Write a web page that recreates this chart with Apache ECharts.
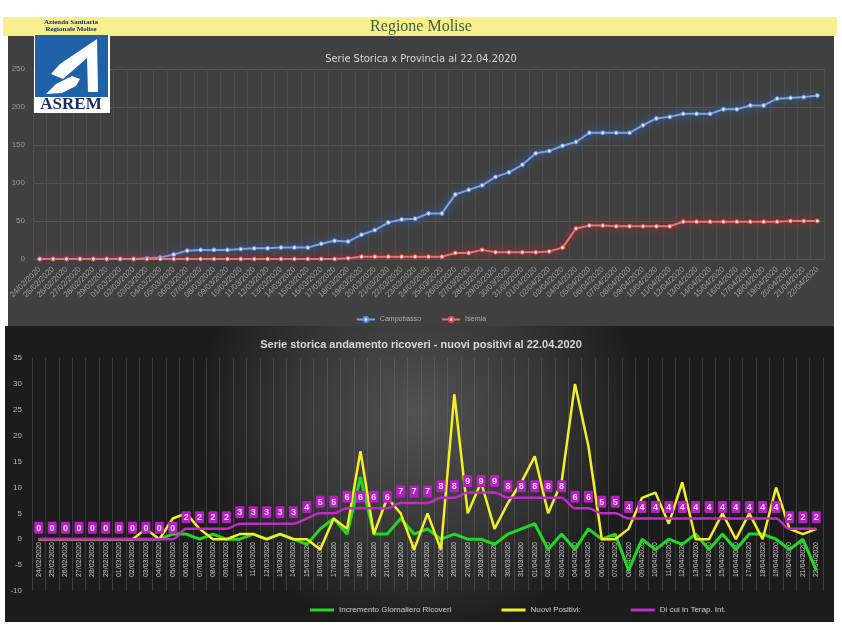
<!DOCTYPE html>
<html><head><meta charset="utf-8">
<script src="https://cdn.jsdelivr.net/npm/echarts@6/dist/echarts.min.js"></script>
<style>html,body{margin:0;padding:0;background:#fff}#c{width:842px;height:632px}</style>
</head><body><div id="c"></div>
<script>
const dates = ['24/02/2020','25/02/2020','26/02/2020','27/02/2020','28/02/2020','29/02/2020',
'01/03/2020','02/03/2020','03/03/2020','04/03/2020','05/03/2020','06/03/2020','07/03/2020','08/03/2020','09/03/2020','10/03/2020',
'11/03/2020','12/03/2020','13/03/2020','14/03/2020','15/03/2020','16/03/2020','17/03/2020','18/03/2020','19/03/2020','20/03/2020',
'21/03/2020','22/03/2020','23/03/2020','24/03/2020','25/03/2020','26/03/2020','27/03/2020','28/03/2020','29/03/2020','30/03/2020','31/03/2020',
'01/04/2020','02/04/2020','03/04/2020','04/04/2020','05/04/2020','06/04/2020','07/04/2020','08/04/2020','09/04/2020','10/04/2020',
'11/04/2020','12/04/2020','13/04/2020','14/04/2020','15/04/2020','16/04/2020','17/04/2020','18/04/2020','19/04/2020','20/04/2020',
'21/04/2020','22/04/2020'];

const campobasso = [0,0,0,0,0,0,0,0,1,2,6,11,12,12,12,13,14,14,15,15,15,20,24,23,32,38,48,52,53,
60,60,85,91,97,108,114,124,139,142,149,154,166,166,166,166,176,185,187,191,191,191,197,197,202,202,211,212,213,215];
const isernia = [0,0,0,0,0,0,0,0,0,0,0,0,0,0,0,0,0,0,0,0,0,0,0,1,3,3,3,3,3,3,3,
8,8,12,9,9,9,9,10,15,40,44,44,43,43,43,43,43,49,49,49,49,49,49,49,49,50,50,50];

const incrementoRicoveri = [0,0,0,0,0,0,0,0,0,0,1,1,0,1,0,0,1,0,1,0,-1,2,4,1,12,1,1,4,1,2,0,1,0,0,-1,1,2,3,-2,1,-2,2,0,1,-6,0,-2,0,-1,1,-2,1,-2,1,1,0,-2,0,-6];
const nuoviPositivi = [0,0,0,0,0,0,0,0,2,0,4,5,2,0,0,1,1,0,1,0,0,-2,4,2,17,1,8,5,-2,5,-2,28,5,11,2,7,11,16,5,11,30,18,0,0,2,8,9,3,11,0,0,5,0,5,0,10,2,1,2];
const terapiaIntensiva = [0,0,0,0,0,0,0,0,0,0,0,2,2,2,2,3,3,3,3,3,4,5,5,6,6,6,6,7,7,7,8,8,9,9,9,8,8,8,8,8,6,6,5,5,4,4,4,4,4,4,4,4,4,4,4,4,2,2,2];

const chart = echarts.init(document.getElementById('c'), null, {renderer:'canvas'});

const logo = [
  {type:'rect', shape:{x:34,y:17,width:76,height:96}, style:{fill:'#ffffff'}, z:100},
  {type:'rect', shape:{x:34,y:17,width:76,height:18}, style:{fill:'#f7ef8c'}, z:100},
  {type:'text', style:{x:71,y:22,text:'Azienda Sanitaria',fill:'#1b2b6b',font:'bold 7px "Liberation Serif", serif',align:'center',verticalAlign:'middle'}, z:101},
  {type:'text', style:{x:71,y:29,text:'Regionale Molise',fill:'#1b2b6b',font:'bold 7px "Liberation Serif", serif',align:'center',verticalAlign:'middle'}, z:101},
  {type:'rect', shape:{x:35,y:35,width:73,height:62}, style:{fill:'#1f62a8'}, z:101},
  {type:'polygon', shape:{points:[[97,39],[98,92],[88,92],[87,58],[63,79],[51,74],[60,64]]}, style:{fill:'#ffffff'}, z:102},
  {type:'polygon', shape:{points:[[46,94],[56,84],[72,76],[80,79],[76,86],[62,93]]}, style:{fill:'#ffffff'}, z:102},
  {type:'text', style:{x:71,y:105,text:'ASREM',fill:'#1b2b6b',font:'bold 17px "Liberation Serif", serif',align:'center',verticalAlign:'middle'}, z:101}
];

const option = {
  animation:false,
  backgroundColor:'#ffffff',
  graphic:[
    {type:'rect', shape:{x:3,y:17,width:834,height:19}, style:{fill:'#f7ef8c'}, z:-10},
    {type:'text', style:{x:421,y:27,text:'Regione Molise',fill:'#3d5e3a',font:'16px "Liberation Serif", serif',align:'center',verticalAlign:'middle'}, z:-9},
    {type:'rect', shape:{x:8,y:36,width:826,height:290}, style:{fill:'#404040'}, z:-10},
    {type:'rect', shape:{x:5,y:326,width:829,height:296}, style:{fill:{type:'radial',x:0.5,y:0.3,r:0.75,colorStops:[{offset:0,color:'#525252'},{offset:0.6,color:'#343434'},{offset:1,color:'#1c1c1c'}]}}, z:-10},
    ...logo
  ],
  title:[
    {text:'Serie Storica x Provincia al 22.04.2020', left:'center', top:49,
     textStyle:{color:'#d8d8d8',fontSize:11,fontWeight:'normal',fontFamily:'"DejaVu Sans Condensed", "Liberation Sans Narrow", sans-serif'}},
    {text:'Serie storica andamento ricoveri - nuovi positivi al 22.04.2020', left:'center', top:334,
     textStyle:{color:'#d8d8d8',fontSize:11,fontWeight:'bold',fontFamily:'"Liberation Sans", sans-serif'}}
  ],
  legend:[
    {data:['Campobasso','Isernia'], top:311, left:'center', itemWidth:18, itemHeight:6, itemGap:20,
     textStyle:{color:'#b0b0b0',fontSize:7}},
    {data:['Incremento Giornaliero Ricoveri','Nuovi Positivi:','Di cui in Terap. Int.'], top:601, left:305,
     icon:'rect', itemWidth:24, itemHeight:3, itemGap:50,
     textStyle:{color:'#d0d0d0',fontSize:8}}
  ],
  grid:[
    {left:33, right:18, top:69, height:190},
    {left:32, right:19, top:358, height:233}
  ],
  xAxis:[
    {type:'category', gridIndex:0, data:dates, boundaryGap:true,
     axisLine:{show:false}, axisTick:{show:false},
     axisLabel:{interval:0, rotate:45, fontSize:8, color:'#a0a0a0', margin:9},
     splitLine:{show:true, interval:0, lineStyle:{color:'#4d4d4d', width:1}}},
    {type:'category', gridIndex:1, data:dates, boundaryGap:true, offset:-52,
     axisLine:{show:false, onZero:false}, axisTick:{show:false},
     axisLabel:{interval:0, rotate:90, fontSize:7, color:'#c8c8c8', margin:3},
     splitLine:{show:true, interval:0, lineStyle:{color:'rgba(120,120,120,0.35)', width:1}}}
  ],
  yAxis:[
    {type:'value', gridIndex:0, min:0, max:250, interval:50,
     axisLine:{show:false}, axisTick:{show:false},
     axisLabel:{fontSize:8, color:'#9a9a9a', margin:8},
     splitLine:{lineStyle:{color:'#565656', width:1}}},
    {type:'value', gridIndex:1, min:-10, max:35, interval:5,
     axisLine:{show:false}, axisTick:{show:false},
     axisLabel:{fontSize:8, color:'#bdbdbd', margin:10},
     splitLine:{show:false}}
  ],
  series:[
    {name:'Campobasso', type:'line', xAxisIndex:0, yAxisIndex:0, data:campobasso,
     symbol:'circle', symbolSize:4,
     itemStyle:{color:'#dce6ff', borderColor:'#5b8fe0', borderWidth:1},
     lineStyle:{color:'#78a4ec', width:2, shadowColor:'#2f6fdc', shadowBlur:8}},
    {name:'Isernia', type:'line', xAxisIndex:0, yAxisIndex:0, data:isernia,
     symbol:'circle', symbolSize:4,
     itemStyle:{color:'#ffdede', borderColor:'#e05050', borderWidth:1},
     lineStyle:{color:'#f07070', width:2, shadowColor:'#e02020', shadowBlur:8}},
    {name:'Incremento Giornaliero Ricoveri', type:'line', xAxisIndex:1, yAxisIndex:1, data:incrementoRicoveri,
     symbol:'none', itemStyle:{color:'#22d822'}, lineStyle:{color:'#22d822', width:3}},
    {name:'Nuovi Positivi:', type:'line', xAxisIndex:1, yAxisIndex:1, data:nuoviPositivi,
     symbol:'none', itemStyle:{color:'#f4f022'}, lineStyle:{color:'#f4f022', width:2.5}},
    {name:'Di cui in Terap. Int.', type:'line', xAxisIndex:1, yAxisIndex:1, data:terapiaIntensiva,
     symbol:'circle', symbolSize:1, smooth:0.3, showSymbol:true,
     itemStyle:{color:'#c02cc8'}, lineStyle:{color:'#c02cc8', width:2.5},
     label:{show:true, position:'top', distance:5, formatter:'{c}', color:'#ffd0ff', fontSize:9, fontWeight:'bold',
       backgroundColor:'#b520c0', padding:[2,2,1,2], borderRadius:1}}
  ]
};
chart.setOption(option);
</script></body></html>
